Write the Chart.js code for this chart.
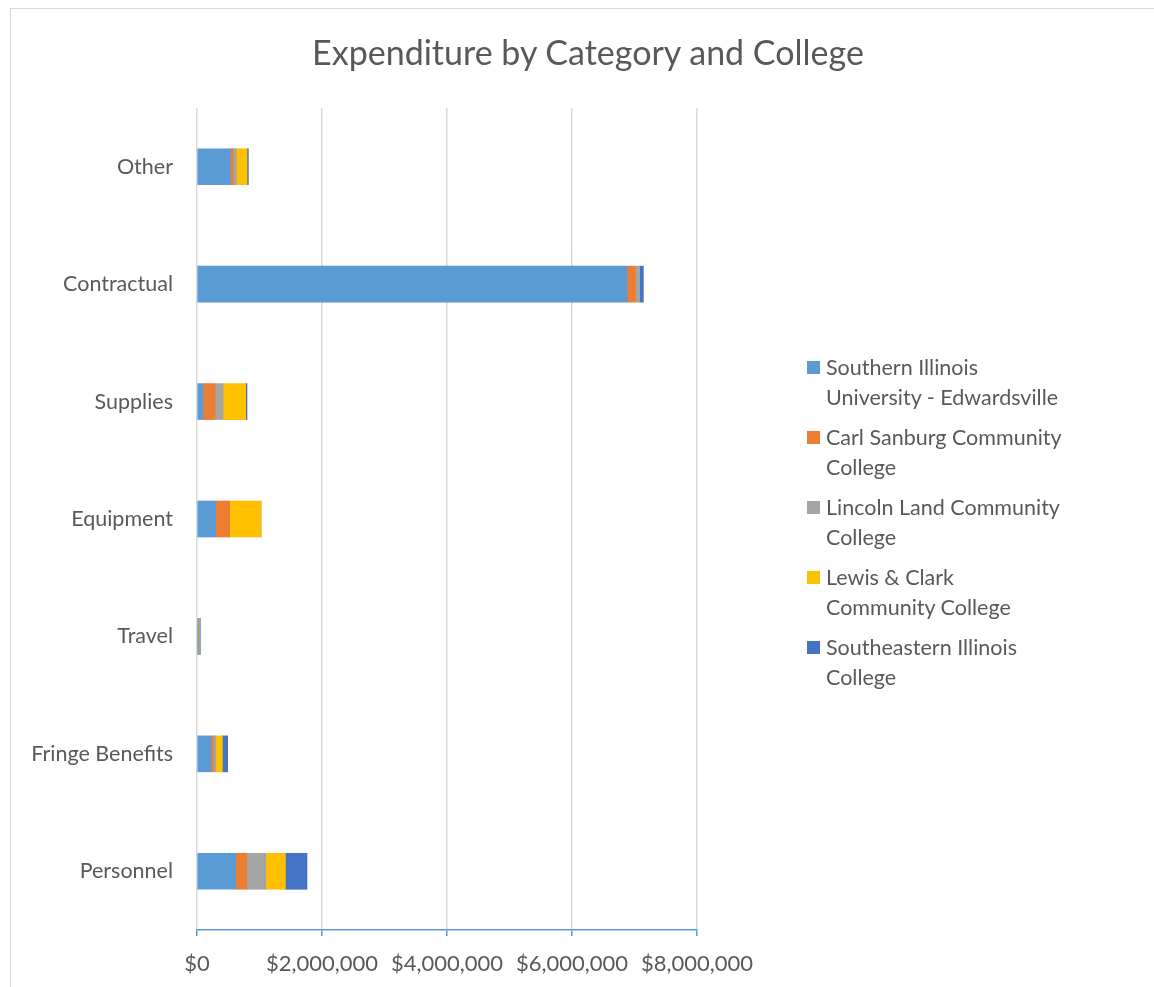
<!DOCTYPE html>
<html>
<head>
<meta charset="utf-8">
<script src="https://cdn.jsdelivr.net/npm/chart.js@4"></script>
<style>
  body { margin: 0; background: #fff; font-family: Lato, sans-serif; }
  #frame { position: absolute; left: 10px; top: 8px; width: 1160px; height: 990px;
           border-left: 1px solid #d9d9d9; border-top: 1px solid #d9d9d9; }
  #wrap { position: absolute; left: 11px; top: 9px; width: 1154px; height: 980px; }
  #title { position: absolute; left: 11px; width: 1154px; top: 31px; text-align: center;
           font-size: 34px; line-height: 42px; color: #595959; }
  #legend { position: absolute; left: 807px; top: 352px; color: #595959; font-size: 21.5px; }
  .item { position: relative; padding-left: 19px; line-height: 30px; margin-bottom: 10px; white-space: pre-line; }
  .sw { position: absolute; left: 0; top: 9px; width: 13px; height: 13px; }
</style>
</head>
<body>
<div id="frame"></div>
<div id="wrap"><canvas id="chart"></canvas></div>
<div id="title">Expenditure by Category and College</div>
<div id="legend"></div>
<script>
const categories = ['Other', 'Contractual', 'Supplies', 'Equipment', 'Travel', 'Fringe Benefits', 'Personnel'];
const seriesNames = [
  'Southern Illinois\nUniversity - Edwardsville',
  'Carl Sanburg Community\nCollege',
  'Lincoln Land Community\nCollege',
  'Lewis & Clark\nCommunity College',
  'Southeastern Illinois\nCollege'
];
const colors = ['#5B9BD5', '#ED7D31', '#A5A5A5', '#FFC000', '#4472C4'];

const siue         = [534000, 6880000,  96000, 299000, 20000, 224000, 619000];
const carlSandburg = [ 42000,  134000, 192000, 224000,  5000,  32000, 176000];
const lincolnLand  = [ 54000,   69000, 128000,      0,  5000,  43000, 304000];
const lewisClark   = [170000,       0, 363000, 501000,  8000, 107000, 315000];
const southeastern = [ 22000,   59000,  21000,      0, 15000,  85000, 346000];

const xTicks = [0, 2000000, 4000000, 6000000, 8000000];

const values = [siue, carlSandburg, lincolnLand, lewisClark, southeastern];

const datasets = values.map((v, i) => ({
  label: seriesNames[i].replace('\n', ' '),
  data: v,
  backgroundColor: colors[i],
  borderWidth: 0,
  barThickness: 36
}));

// legend built as html so the names can wrap like the original
const legend = document.getElementById('legend');
seriesNames.forEach((n, i) => {
  const d = document.createElement('div');
  d.className = 'item';
  d.innerHTML = '<span class="sw" style="background:' + colors[i] + '"></span>';
  d.appendChild(document.createTextNode(n));
  legend.appendChild(d);
});

Chart.defaults.font.family = 'Lato, sans-serif';
Chart.defaults.color = '#595959';

new Chart(document.getElementById('chart'), {
  type: 'bar',
  data: { labels: categories, datasets: datasets },
  options: {
    indexAxis: 'y',
    responsive: true,
    maintainAspectRatio: false,
    animation: false,
    layout: { padding: { left: 0, right: 468, top: 99, bottom: 9 } },
    plugins: {
      legend: { display: false },
      tooltip: { enabled: false },
      title: { display: false }
    },
    scales: {
      x: {
        stacked: true,
        min: 0,
        max: 8000000,
        afterBuildTicks: s => { s.ticks = xTicks.map(v => ({ value: v })); },
        afterFit: s => { s.height = 50; },
        grid: { color: '#d9d9d9', lineWidth: 1.5, tickLength: 6, tickColor: '#5B9BD5' },
        border: { color: '#5B9BD5', width: 1.5 },
        ticks: {
          font: { size: 22 },
          color: '#595959',
          padding: 15,
          maxRotation: 0,
          callback: v => '$' + v.toLocaleString('en-US')
        }
      },
      y: {
        stacked: true,
        afterFit: s => { s.width = 186; },
        grid: { display: false, drawTicks: false },
        border: { display: false },
        ticks: { font: { size: 21.5 }, color: '#595959', padding: 24 }
      }
    }
  }
});
</script>
</body>
</html>
